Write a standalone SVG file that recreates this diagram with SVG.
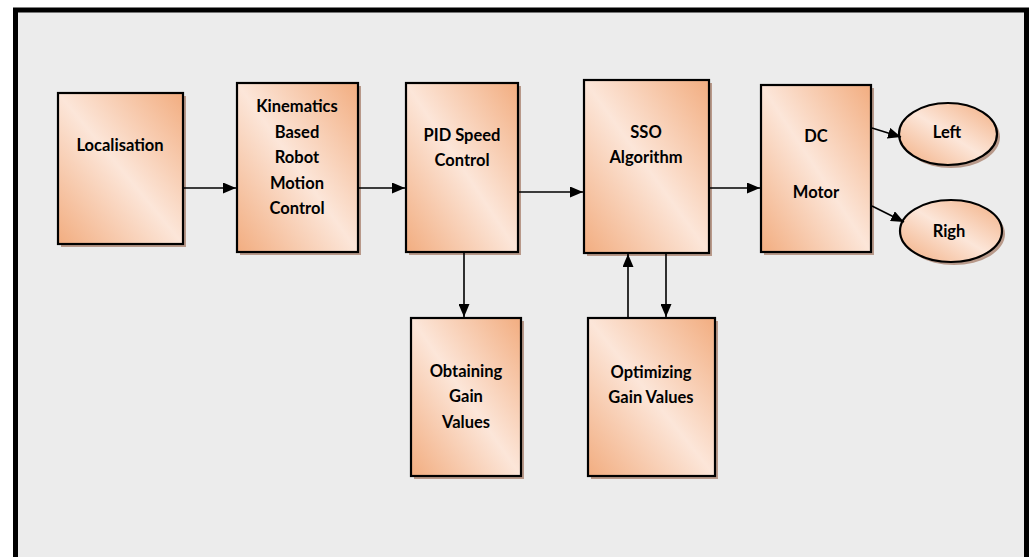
<svg xmlns="http://www.w3.org/2000/svg" width="1034" height="557" viewBox="0 0 1034 557">
<defs>
<linearGradient id="g" x1="1" y1="0" x2="0" y2="1">
<stop offset="0" stop-color="#f2ad80"/>
<stop offset="0.5" stop-color="#fce6d9"/>
<stop offset="1" stop-color="#f2ad80"/>
</linearGradient>
<marker id="ah" markerWidth="13" markerHeight="11" refX="13" refY="5.5" orient="auto" markerUnits="userSpaceOnUse">
<path d="M0,0 L13,5.5 L0,11 Z" fill="#000"/>
</marker>
</defs>
<style>
.box{fill:url(#g);stroke:#000;stroke-width:2.2}
.sh{fill:#b8998a}
.t{font-family:Lato,"Liberation Sans",sans-serif;font-weight:bold;font-size:16.5px;fill:#000;text-anchor:middle}
.c{stroke:#000;stroke-width:1.6;fill:none;marker-end:url(#ah)}
</style>
<rect x="0" y="0" width="1034" height="557" fill="#fff"/>
<rect x="15.5" y="10" width="1011" height="560" fill="#ececec" stroke="#000" stroke-width="5"/>

<g id="localisation">
<rect class="sh" x="61" y="96" width="125" height="151"/>
<rect class="box" x="58" y="93" width="125" height="151"/>
<text class="t" x="120" y="151">Localisation</text>
</g>
<g id="kinematics">
<rect class="sh" x="240" y="86" width="121" height="169"/>
<rect class="box" x="237" y="83" width="121" height="169"/>
<text class="t" x="297" y="112">Kinematics</text>
<text class="t" x="297" y="137.5">Based</text>
<text class="t" x="297" y="163">Robot</text>
<text class="t" x="297" y="188.5">Motion</text>
<text class="t" x="297" y="214">Control</text>
</g>
<g id="pid">
<rect class="sh" x="409" y="86" width="112" height="169"/>
<rect class="box" x="406" y="83" width="112" height="169"/>
<text class="t" x="462" y="141">PID Speed</text>
<text class="t" x="462" y="166">Control</text>
</g>
<g id="sso">
<rect class="sh" x="587" y="83" width="125" height="173"/>
<rect class="box" x="584" y="80" width="125" height="173"/>
<text class="t" x="646" y="138">SSO</text>
<text class="t" x="646" y="163">Algorithm</text>
</g>
<g id="dcmotor">
<rect class="sh" x="764" y="88" width="110" height="167"/>
<rect class="box" x="761" y="85" width="110" height="167"/>
<text class="t" x="816" y="142">DC</text>
<text class="t" x="816" y="198">Motor</text>
</g>
<g id="left">
<ellipse class="sh" cx="951" cy="137" rx="49" ry="31"/>
<ellipse class="box" cx="948" cy="134" rx="49" ry="31"/>
<text class="t" x="947" y="138">Left</text>
</g>
<g id="righ">
<ellipse class="sh" cx="954" cy="234" rx="51" ry="31"/>
<ellipse class="box" cx="951" cy="231" rx="51" ry="31"/>
<text class="t" x="949" y="237">Righ</text>
</g>
<g id="obtaining">
<rect class="sh" x="414" y="321" width="110" height="158"/>
<rect class="box" x="411" y="318" width="110" height="158"/>
<text class="t" x="466" y="377">Obtaining</text>
<text class="t" x="466" y="402">Gain</text>
<text class="t" x="466" y="428">Values</text>
</g>
<g id="optimizing">
<rect class="sh" x="591" y="321" width="127" height="158"/>
<rect class="box" x="588" y="318" width="127" height="158"/>
<text class="t" x="651" y="378">Optimizing</text>
<text class="t" x="651" y="403">Gain Values</text>
</g>

<g id="connectors">
<line class="c" x1="184" y1="188" x2="236" y2="188"/>
<line class="c" x1="359" y1="188" x2="405" y2="188"/>
<line class="c" x1="519" y1="192" x2="583" y2="192"/>
<line class="c" x1="710" y1="188" x2="760" y2="188"/>
<line class="c" x1="872" y1="128" x2="901" y2="137"/>
<line class="c" x1="872" y1="206" x2="904" y2="222"/>
<line class="c" x1="464" y1="253" x2="464" y2="317"/>
<line class="c" x1="628" y1="318" x2="628" y2="254"/>
<line class="c" x1="666" y1="253" x2="666" y2="317"/>
</g>
</svg>
